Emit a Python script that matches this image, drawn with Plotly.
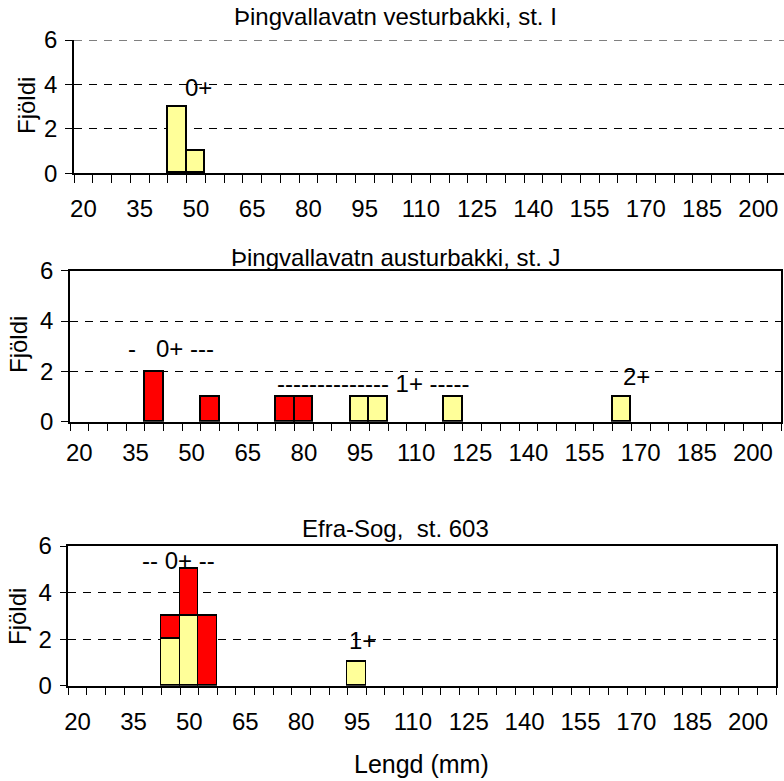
import plotly.graph_objects as go

# Lengdardreifing seiða (mm) á þremur stöðvum, 5 mm lengdarflokkar
bin_breidd = 5
fyrsti_flokkur = 20
sidasti_flokkur = 205
merktar_lengdir = [20, 35, 50, 65, 80, 95, 110, 125, 140, 155, 170, 185, 200]
fjoldi_ticks = [0, 2, 4, 6]

# Þingvallavatn vesturbakki, st. I
st_I_lengd_gul = [45, 50]
st_I_fjoldi_gul = [3, 1]

# Þingvallavatn austurbakki, st. J
st_J_lengd_raud = [40, 55, 75, 80]
st_J_fjoldi_raud = [2, 1, 1, 1]
st_J_lengd_gul = [95, 100, 120, 165]
st_J_fjoldi_gul = [1, 1, 1, 1]

# Efra-Sog, st. 603
st_603_lengd_gul = [45, 50, 95]
st_603_fjoldi_gul = [2, 3, 1]
st_603_lengd_raud = [45, 50, 55]
st_603_fjoldi_raud = [1, 2, 3]

titlar = ["Þingvallavatn vesturbakki, st. I",
          "Þingvallavatn austurbakki, st. J",
          "Efra-Sog,  st. 603"]

GUL = "#FFFF99"
RAUD = "#FF0000"
FONT = "Liberation Sans, Arial, sans-serif"
W, H = 784, 781
GRID_DASH = "8px,7px"
FS = 24

def px_x(p):
    return p / W

def px_y(p):
    return 1 - p / H

fig = go.Figure()

def bars(x, y, color, ax):
    fig.add_trace(go.Bar(
        x=x, y=y, width=[bin_breidd] * len(x),
        marker=dict(color=color, line=dict(color="black", width=1.8)),
        xaxis="x" + ax, yaxis="y" + ax, showlegend=False, hoverinfo="x+y"))

bars(st_I_lengd_gul, st_I_fjoldi_gul, GUL, "")
bars(st_J_lengd_raud, st_J_fjoldi_raud, RAUD, "2")
bars(st_J_lengd_gul, st_J_fjoldi_gul, GUL, "2")
bars(st_603_lengd_gul, st_603_fjoldi_gul, GUL, "3")
bars(st_603_lengd_raud, st_603_fjoldi_raud, RAUD, "3")

x0 = fyrsti_flokkur - bin_breidd / 2
n_flokkar = (sidasti_flokkur - fyrsti_flokkur) // bin_breidd + 1
markalinur = [x0 + bin_breidd * k for k in range(n_flokkar + 1)]

# (vinstri px, hægri px, efri px, neðri px, rammi, hægri mörk x)
svaedi = [
    (74, 784, 40, 173.3, False, x0 + (784 - 74) / 18.75 * bin_breidd),
    (70, 781, 270.7, 421.7, True, x0 + n_flokkar * bin_breidd),
    (68.3, 776, 546, 685.7, True, x0 + n_flokkar * bin_breidd),
]
standoff = [13, 9, 14]

layout = dict(
    template="none",
    width=W, height=H, margin=dict(l=0, r=0, t=0, b=0, pad=0),
    paper_bgcolor="white", plot_bgcolor="white",
    barmode="stack", bargap=0,
    font=dict(family=FONT, size=FS, color="black"),
)

for i, (l, r, t, b, rammi, xmax) in enumerate(svaedi):
    s = "" if i == 0 else str(i + 1)
    layout["xaxis" + s] = dict(
        domain=[px_x(l), px_x(r)], range=[x0, xmax], anchor="y" + s,
        automargin=False,
        tickmode="array", tickvals=merktar_lengdir,
        ticks="", ticklen=0, showgrid=False, zeroline=False,
        showline=True, linecolor="black", linewidth=1.5, mirror=rammi,
        tickfont=dict(size=FS), ticklabelstandoff=standoff[i],
        minor=dict(tickmode="array", tickvals=markalinur, ticks="outside",
                   ticklen=8, tickwidth=1.3, tickcolor="black", showgrid=False),
    )
    layout["yaxis" + s] = dict(
        domain=[px_y(b), px_y(t)], range=[0, 6], anchor="x" + s,
        automargin=False,
        tickmode="array", tickvals=fjoldi_ticks,
        ticks="outside", ticklen=7, tickwidth=1.3, tickcolor="black",
        showline=True, linecolor="black", linewidth=1.5, mirror=rammi,
        showgrid=True, gridcolor="black", gridwidth=1, griddash=GRID_DASH,
        zeroline=False, tickfont=dict(size=FS), ticklabelstandoff=3,
    )

# efsta hnitalína efsta grafsins (y = 6) er brotin lína
shapes = [dict(type="line", xref="x domain", yref="y", x0=0, x1=1,
               y0=fjoldi_ticks[-1], y1=fjoldi_ticks[-1],
               line=dict(color="black", width=1, dash=GRID_DASH))]

annotations = []
# titlar hvers grafs
for txt, yc in zip(titlar, [16, 257, 528]):
    annotations.append(dict(text=txt, xref="paper", yref="paper",
                            x=px_x(396), y=px_y(yc), showarrow=False,
                            xanchor="center", yanchor="middle",
                            font=dict(size=FS)))
# ástitlar
for xc, yc in [(26, 106), (18, 345), (17, 617)]:
    annotations.append(dict(text="Fjöldi", xref="paper", yref="paper",
                            x=px_x(xc), y=px_y(yc), showarrow=False,
                            textangle=-90, xanchor="center", yanchor="middle",
                            font=dict(size=FS)))
annotations.append(dict(text="Lengd (mm)", xref="paper", yref="paper",
                        x=px_x(422), y=px_y(764), showarrow=False,
                        xanchor="center", yanchor="middle",
                        font=dict(size=25)))

# aldursflokkar
NB = "\u00a0"
aldur = [
    ("0+", "x", "y", 50.6, 3.88),
    ("-" + NB * 3 + "0+" + NB + "---", "x2", "y2", 44.5, 2.89),
    ("-" * 14 + NB + "1+" + NB + "-----", "x2", "y2", 98.6, 1.50),
    ("2+", "x2", "y2", 168.8, 1.78),
    ("--" + NB + "0+" + NB + "--", "x3", "y3", 47.2, 5.36),
    ("1+", "x3", "y3", 96.6, 1.96),
]
for txt, xr, yr, xv, yv in aldur:
    annotations.append(dict(text=txt, xref=xr, yref=yr, x=xv, y=yv,
                            showarrow=False, xanchor="center",
                            yanchor="middle", font=dict(size=FS)))

layout["annotations"] = annotations
layout["shapes"] = shapes
fig.update_layout(**layout)

fig.write_html("out.html")
